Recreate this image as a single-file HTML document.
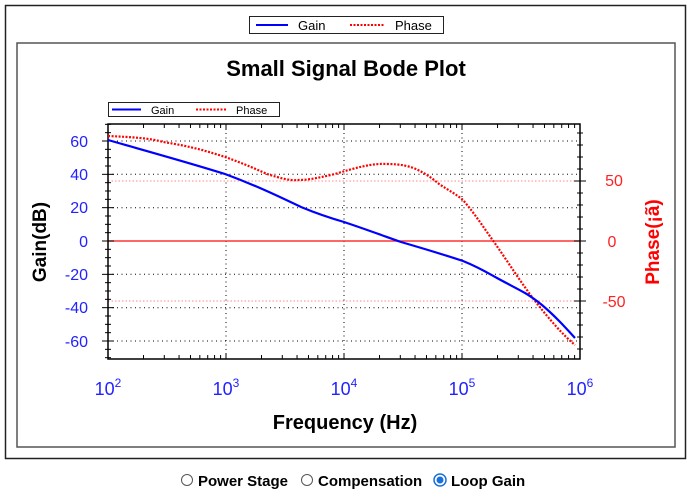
<!DOCTYPE html>
<html><head><style>
body{margin:0;background:#fff;width:690px;height:494px;overflow:hidden;font-family:"Liberation Sans",Arial,sans-serif}
</style></head><body>
<svg width="690" height="494" xmlns="http://www.w3.org/2000/svg" font-family="Liberation Sans, Arial, sans-serif">
<rect x="5.5" y="5.5" width="680" height="453" fill="#fff" stroke="#222" stroke-width="1.5"/>
<rect x="17" y="43" width="658" height="404" fill="#fff" stroke="#555" stroke-width="1.5"/>
<!-- top legend -->
<rect x="249.5" y="16.5" width="194" height="17" fill="#fff" stroke="#222"/>
<line x1="256" y1="25" x2="288" y2="25" stroke="#00f" stroke-width="2"/>
<text x="298" y="30" font-size="13">Gain</text>
<line x1="350" y1="25" x2="384" y2="25" stroke="#f00" stroke-width="2" stroke-dasharray="2,1.5"/>
<text x="395" y="30" font-size="13">Phase</text>
<text x="346" y="76" font-size="22" font-weight="bold" text-anchor="middle">Small Signal Bode Plot</text>
<!-- inner legend -->
<rect x="108.5" y="102.5" width="171" height="14" fill="#fff" stroke="#222"/>
<line x1="112" y1="109.5" x2="141" y2="109.5" stroke="#00f" stroke-width="2"/>
<text x="151" y="114" font-size="11">Gain</text>
<line x1="196" y1="109.5" x2="226" y2="109.5" stroke="#f00" stroke-width="2" stroke-dasharray="2,1.5"/>
<text x="236" y="114" font-size="11">Phase</text>
<!-- grid -->
<g stroke="#000" stroke-width="1" stroke-dasharray="1,3.5">
<line x1="226" y1="124" x2="226" y2="359"/><line x1="344" y1="124" x2="344" y2="359"/><line x1="462" y1="124" x2="462" y2="359"/>
<line x1="108" y1="141" x2="580" y2="141"/><line x1="108" y1="174.3" x2="580" y2="174.3"/><line x1="108" y1="207.7" x2="580" y2="207.7"/>
<line x1="108" y1="274.3" x2="580" y2="274.3"/><line x1="108" y1="307.7" x2="580" y2="307.7"/><line x1="108" y1="341" x2="580" y2="341"/>
</g>
<g stroke="#f88" stroke-width="1" stroke-dasharray="1.5,2">
<line x1="108" y1="181" x2="580" y2="181"/><line x1="108" y1="301" x2="580" y2="301"/>
</g>
<line x1="108" y1="241" x2="580" y2="241" stroke="#f33" stroke-width="1.5"/>
<!-- axes -->
<rect x="108" y="124" width="472" height="235" fill="none" stroke="#000" stroke-width="1.5"/>
<g stroke="#000" stroke-width="1" id="ticks">
</g>
<!-- curves -->
<path d="M108,136 C130,137 150,138 163,142 C190,146 210,152 225,157 C245,164 258,170 267,174 C280,178 290,181 298,180 C310,180 322,177 335,174 C355,168 372,163 387,164 C400,164 410,166 418,170 C428,175 433,179 439,184 C448,190 456,194 463,200 C475,214 484,228 494,242 C508,262 522,284 535,301 C550,320 562,334 575,345" fill="none" stroke="#f00" stroke-width="2.2" stroke-dasharray="2,1.5"/>
<path d="M108,140 C150,152 190,163 225,174 C255,185 280,197 301,207 C318,214 330,218 344,222 C365,229 384,236 401,242 C425,249 445,255 463,261 C478,267 488,273 497,278 C508,284 516,288 525,293 C532,297 537,301 542,305 C555,316 565,327 575,338" fill="none" stroke="#00f" stroke-width="2.2"/>
<!-- y labels -->
<g fill="#22f" font-size="16" text-anchor="end">
<text x="88" y="147">60</text><text x="88" y="180">40</text><text x="88" y="213">20</text><text x="88" y="247">0</text>
<text x="88" y="280">-20</text><text x="88" y="313">-40</text><text x="88" y="347">-60</text>
</g>
<g fill="#f22" font-size="16" text-anchor="middle">
<text x="614" y="186">50</text><text x="612" y="247">0</text><text x="614" y="307">-50</text>
</g>
<g fill="#22f" font-size="18" text-anchor="middle">
<text x="108" y="395">10<tspan font-size="12" dy="-8">2</tspan></text>
<text x="226" y="395">10<tspan font-size="12" dy="-8">3</tspan></text>
<text x="344" y="395">10<tspan font-size="12" dy="-8">4</tspan></text>
<text x="462" y="395">10<tspan font-size="12" dy="-8">5</tspan></text>
<text x="580" y="395">10<tspan font-size="12" dy="-8">6</tspan></text>
</g>
<text x="345" y="429" font-size="20" font-weight="bold" text-anchor="middle">Frequency (Hz)</text>
<text transform="translate(46,242) rotate(-90)" font-size="19" font-weight="bold" text-anchor="middle">Gain(dB)</text>
<text transform="translate(659,242) rotate(-90)" font-size="19" font-weight="bold" fill="#f00" text-anchor="middle">Phase(¡ã)</text>
<!-- radios -->
<g font-size="15" font-weight="bold">
<circle cx="187" cy="480" r="5.5" fill="#fff" stroke="#555"/>
<text x="198" y="486">Power Stage</text>
<circle cx="307" cy="480" r="5.5" fill="#fff" stroke="#555"/>
<text x="318" y="486">Compensation</text>
<circle cx="440" cy="480" r="6" fill="#fff" stroke="#1a6fd8" stroke-width="1.5"/>
<circle cx="440" cy="480" r="3.5" fill="#1a6fd8"/>
<text x="451" y="486">Loop Gain</text>
</g>
</svg>
<script>
var g=document.getElementById('ticks'),s='';
for(var d=0;d<4;d++)for(var k=1;k<=10;k++){var x=108+118*(d+Math.log10(k));var L=(k==1||k==10)?6:4;
s+='<line x1="'+x+'" y1="124" x2="'+x+'" y2="'+(124+L)+'"/><line x1="'+x+'" y1="359" x2="'+x+'" y2="'+(359-L)+'"/>';}
for(var v=-70;v<=70;v+=5){var y=241-v*1.6667;var L=v%20==0?6:3;s+='<line x1="'+(108-L)+'" y1="'+y+'" x2="'+(108+L)+'" y2="'+y+'"/>';}
for(var p=-90;p<=90;p+=10){var y=241-p*1.2;if(y<124||y>359)continue;var L=p%50==0?6:3;s+='<line x1="'+(580-L)+'" y1="'+y+'" x2="'+(580+L)+'" y2="'+y+'"/>';}
g.innerHTML=s;
</script>
</body></html>
